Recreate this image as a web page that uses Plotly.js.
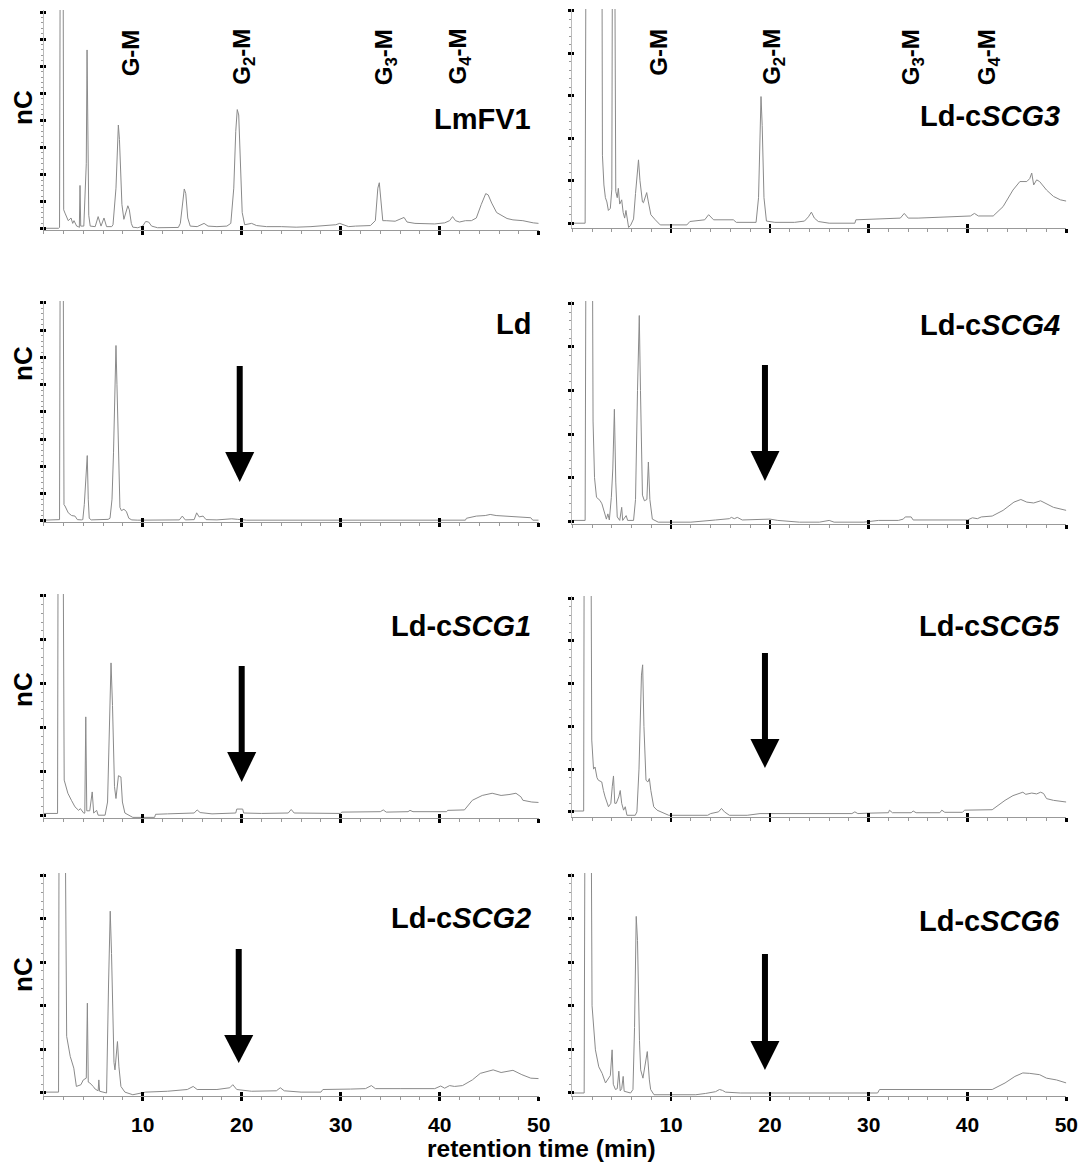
<!DOCTYPE html>
<html><head><meta charset="utf-8">
<script src="https://cdn.plot.ly/plotly-3.0.1.min.js"></script>
<style>html,body{margin:0;padding:0;background:#fff}#chart{width:1081px;height:1164px}</style>
</head><body><div id="chart"></div>
<script>
// ---------- data: [retention time (min), signal (nC, tick units)] ----------
const LmFV1 = [[0,0.02],[1.5,0.02],[1.6,0.05],[1.68,12],[1.95,12],[2.02,0.7],[2.15,0.58],[2.48,0.3],[2.76,0.4],[2.93,0.2],[3.06,0.3],[3.33,0.1],[3.5,0.08],[3.6,0.05],[3.67,1.6],[3.74,0.1],[4.05,0.1],[4.2,1.2],[4.3,2.4],[4.38,6.6],[4.45,2.2],[4.55,0.5],[4.7,0.1],[5.2,0.08],[5.5,0.45],[5.79,0.1],[6.09,0.4],[6.35,0.08],[6.87,0.08],[7.0,0.15],[7.3,1.5],[7.45,3.5],[7.54,3.83],[7.65,3.3],[7.9,0.9],[8.1,0.35],[8.3,0.6],[8.5,0.85],[8.65,0.7],[8.85,0.2],[9.0,0.06],[9.5,0.04],[10.0,0.1],[10.3,0.27],[10.6,0.25],[10.9,0.1],[11.5,0.04],[13.0,0.03],[13.6,0.05],[13.8,0.2],[14.0,0.9],[14.2,1.47],[14.35,1.3],[14.55,0.4],[14.8,0.1],[15.5,0.08],[16.2,0.2],[16.6,0.1],[17.5,0.08],[18.5,0.1],[18.9,0.2],[19.2,1.5],[19.4,3.6],[19.55,4.4],[19.7,4.2],[19.85,2.5],[20.05,0.6],[20.3,0.15],[21.0,0.2],[21.5,0.12],[22.5,0.08],[24,0.08],[25.5,0.06],[27,0.08],[28.5,0.12],[29.5,0.15],[29.9,0.2],[30.3,0.15],[30.8,0.08],[31.5,0.1],[33,0.12],[33.5,0.3],[33.75,1.5],[33.9,1.7],[34.05,1.0],[34.25,0.3],[34.6,0.3],[35.5,0.28],[36.4,0.42],[36.7,0.25],[37.5,0.2],[38.5,0.2],[39.5,0.18],[40.5,0.22],[41.0,0.3],[41.3,0.45],[41.6,0.3],[42.0,0.25],[42.6,0.3],[43.2,0.3],[43.7,0.4],[44.2,0.9],[44.65,1.3],[44.9,1.25],[45.25,0.95],[45.75,0.6],[46.8,0.38],[47.4,0.33],[48.4,0.3],[49.45,0.22],[50,0.2]];
const LdcSCG3 = [[0,0.0],[1.3,0.0],[1.45,12],[2.95,12],[3.05,1.6],[3.2,0.9],[3.35,0.6],[3.5,0.5],[3.65,0.3],[3.85,0.35],[4.0,0.8],[4.12,12],[4.2,12],[4.4,0.75],[4.55,0.6],[4.66,0.82],[4.8,0.45],[5.0,0.55],[5.15,0.25],[5.3,0.12],[5.43,0.3],[5.55,0.1],[5.7,-0.1],[5.9,-0.05],[6.2,0.1],[6.4,0.7],[6.6,1.4],[6.7,1.49],[6.85,1.0],[7.1,0.5],[7.2,0.48],[7.4,0.65],[7.53,0.72],[7.7,0.5],[7.95,0.2],[8.4,0.08],[8.9,-0.04],[11.6,-0.04],[11.9,0.04],[13.4,0.08],[13.8,0.2],[14.3,0.08],[16.3,0.08],[16.6,0.02],[18.6,0.02],[18.85,0.6],[19.0,2.3],[19.1,2.98],[19.22,2.3],[19.4,0.6],[19.65,0.05],[20.5,0.02],[22.5,0.02],[23.5,0.05],[23.9,0.15],[24.2,0.26],[24.5,0.12],[24.9,0.04],[26,0.0],[28.6,0.0],[28.7,0.08],[31.5,0.1],[33.2,0.12],[33.6,0.23],[34.0,0.12],[35,0.12],[37,0.14],[38.5,0.15],[40.3,0.17],[40.7,0.23],[41.1,0.17],[42.6,0.17],[43.6,0.39],[44.6,0.78],[45.3,0.98],[46.0,0.98],[46.3,1.05],[46.5,1.18],[46.7,0.9],[47.0,1.02],[47.3,0.98],[48.0,0.78],[48.7,0.63],[49.4,0.55],[50,0.52]];
const Ld = [[0,0.03],[1.5,0.03],[1.6,0.05],[1.68,12],[1.95,12],[2.05,0.6],[2.15,0.55],[2.48,0.3],[2.82,0.2],[3.16,0.18],[3.4,0.05],[3.8,0.04],[3.95,0.05],[4.1,0.6],[4.2,1.3],[4.3,1.5],[4.4,2.4],[4.5,0.8],[4.6,0.1],[4.8,0.04],[6.0,0.04],[6.5,0.06],[6.7,0.1],[6.9,0.8],[7.05,2.5],[7.15,4.5],[7.3,6.44],[7.4,5.0],[7.55,2.0],[7.7,0.5],[7.85,0.38],[8.1,0.43],[8.35,0.35],[8.6,0.1],[8.9,0.04],[9.5,0.03],[13.7,0.04],[14.0,0.18],[14.3,0.04],[15.2,0.05],[15.45,0.3],[15.7,0.15],[16.1,0.18],[16.4,0.05],[17.5,0.04],[18.5,0.06],[19.0,0.08],[19.6,0.06],[20.5,0.03],[30,0.03],[42.6,0.03],[42.7,0.1],[43.7,0.18],[44.6,0.2],[45.1,0.24],[45.7,0.2],[47.1,0.17],[48.8,0.14],[49.2,0.12],[49.4,0.03],[50,0.03]];
const LdcSCG4 = [[0,0.02],[1.3,0.02],[1.45,12],[1.95,12],[2.1,2.3],[2.25,1.0],[2.45,0.55],[2.8,0.48],[3.0,0.4],[3.15,0.3],[3.3,0.17],[3.45,0.05],[3.6,0.17],[3.75,0.03],[3.95,0.55],[4.1,1.2],[4.26,2.57],[4.4,0.9],[4.55,0.1],[4.8,0.02],[5.0,0.32],[5.1,0.02],[5.45,0.13],[5.6,0.02],[6.2,0.02],[6.4,0.5],[6.6,3.0],[6.78,4.72],[6.9,3.0],[7.1,0.6],[7.3,0.47],[7.55,0.5],[7.7,1.36],[7.85,0.5],[8.1,0.05],[8.7,-0.02],[12,-0.02],[13.5,0.02],[14.5,0.03],[15.9,0.06],[16.1,0.09],[16.4,0.06],[16.7,0.09],[17.2,0.03],[19.5,0.04],[20,0.05],[20.8,0.02],[23,-0.02],[25,-0.02],[26.0,0.02],[26.5,-0.02],[29.5,-0.02],[31,0.02],[33,0.02],[33.5,0.05],[33.7,0.1],[34.3,0.1],[34.5,0.03],[40,0.03],[40.5,0.08],[41.0,0.06],[41.4,0.1],[42.5,0.12],[43.6,0.25],[44.7,0.44],[45.4,0.5],[46.0,0.44],[46.7,0.42],[47.4,0.47],[48.0,0.4],[48.7,0.32],[50,0.25]];
const LdcSCG1 = [[0,0.04],[1.4,0.04],[1.5,12],[1.85,12],[2.07,0.8],[2.44,0.5],[2.8,0.34],[3.16,0.19],[3.53,0.11],[3.7,0.15],[4.07,0.04],[4.15,0.05],[4.25,2.24],[4.35,0.1],[4.65,0.1],[4.9,0.53],[5.05,0.05],[5.35,0.11],[5.5,0.0],[6.2,0.0],[6.45,0.3],[6.6,1.9],[6.8,3.47],[6.95,2.5],[7.15,0.65],[7.3,0.38],[7.55,0.9],[7.8,0.87],[7.95,0.3],[8.2,0.05],[8.6,0.0],[9.0,-0.05],[11.2,-0.05],[11.3,0.02],[12.5,0.03],[14,0.04],[15.2,0.05],[15.5,0.12],[15.8,0.06],[17,0.03],[18.5,0.05],[19.4,0.05],[19.5,0.14],[20.1,0.14],[20.2,0.05],[22,0.04],[24.7,0.05],[25.0,0.13],[25.3,0.05],[28,0.04],[30.0,0.04],[30.1,0.07],[34.0,0.08],[34.3,0.12],[34.6,0.07],[36.8,0.08],[37.0,0.11],[37.3,0.08],[40.7,0.08],[40.8,0.11],[42.5,0.12],[43.3,0.34],[44.3,0.45],[45.3,0.5],[46.2,0.45],[47.0,0.47],[47.7,0.5],[48.2,0.42],[48.4,0.34],[49.3,0.3],[50,0.29]];
const LdcSCG5 = [[0,0.02],[1.15,0.02],[1.25,12],[1.8,12],[1.97,1.68],[2.15,1.0],[2.3,1.05],[2.5,0.8],[2.64,0.74],[2.98,0.7],[3.15,0.5],[3.32,0.35],[3.66,0.12],[3.9,0.2],[4.05,0.6],[4.17,0.84],[4.3,0.2],[4.45,0.2],[4.7,0.35],[4.85,0.5],[5.0,0.2],[5.19,0.04],[5.36,0.12],[5.53,-0.08],[6.37,-0.08],[6.54,0.0],[6.75,1.0],[6.88,1.95],[7.0,3.2],[7.12,3.44],[7.25,2.0],[7.46,0.74],[7.65,0.7],[7.8,0.78],[7.95,0.5],[8.24,0.12],[8.58,0.04],[9.76,-0.08],[13.7,-0.08],[14.0,-0.04],[14.8,0.0],[15.1,0.08],[15.4,0.0],[15.9,-0.08],[17.7,-0.08],[19,-0.04],[28.3,-0.04],[28.6,0.0],[28.9,-0.04],[30,-0.03],[32,-0.02],[32.1,0.04],[32.4,-0.02],[34.3,-0.02],[34.5,0.02],[34.8,-0.02],[37.2,-0.02],[37.4,0.04],[37.7,-0.01],[39.5,-0.01],[39.7,0.04],[42.5,0.05],[43.8,0.27],[44.6,0.38],[45.2,0.43],[45.6,0.46],[45.9,0.41],[46.5,0.44],[47.0,0.42],[47.4,0.46],[47.7,0.43],[48.0,0.31],[48.7,0.27],[50,0.23]];
const LdcSCG2 = [[0,0.02],[1.5,0.02],[1.6,12],[2.0,12],[2.32,1.3],[2.68,0.84],[3.04,0.57],[3.3,0.15],[3.76,0.19],[4.0,0.3],[4.3,0.34],[4.41,2.06],[4.5,0.25],[4.66,0.23],[5.0,0.15],[5.2,0.09],[5.5,0.05],[5.57,0.3],[5.65,0.04],[6.18,0.0],[6.35,0.0],[6.55,2.5],[6.72,4.17],[6.85,3.2],[7.1,0.7],[7.2,0.53],[7.45,1.18],[7.6,0.6],[7.8,0.15],[8.2,0.02],[9.0,-0.04],[10.3,0.02],[12.5,0.04],[14.5,0.08],[15.1,0.15],[15.5,0.08],[17.5,0.08],[18.8,0.12],[19.1,0.19],[19.5,0.08],[21,0.04],[23.5,0.05],[23.9,0.12],[24.3,0.05],[26,0.02],[28,0.02],[28.2,0.08],[31,0.09],[32.5,0.1],[33.1,0.17],[33.5,0.1],[36,0.1],[39.5,0.1],[40.1,0.16],[40.5,0.11],[41.0,0.17],[41.5,0.15],[42.3,0.17],[43.3,0.3],[44.1,0.45],[45.4,0.53],[46.2,0.47],[47.4,0.52],[48.3,0.42],[49.2,0.34],[50,0.33]];
const LdcSCG6 = [[0,0.0],[1.2,0.0],[1.35,12],[1.8,12],[2.0,2.0],[2.34,0.99],[2.68,0.6],[3.02,0.45],[3.36,0.23],[3.6,0.3],[3.85,0.4],[4.03,0.99],[4.15,0.2],[4.37,0.08],[4.55,0.1],[4.71,0.5],[4.85,0.05],[5.0,0.1],[5.15,0.38],[5.25,0.04],[5.9,0.0],[6.14,0.08],[6.3,1.5],[6.47,4.05],[6.6,3.5],[6.8,1.2],[6.92,0.53],[7.15,0.34],[7.35,0.6],[7.59,0.95],[7.8,0.3],[7.93,0.08],[8.27,-0.04],[12.5,-0.04],[13.5,-0.01],[14.5,0.03],[14.9,0.08],[15.2,0.06],[15.5,0.02],[17,0.0],[30.9,0.0],[31.1,0.08],[42.5,0.08],[43.8,0.23],[44.8,0.38],[45.6,0.46],[46.3,0.45],[47.3,0.42],[48.0,0.34],[49.0,0.3],[50,0.23]];

const panelSeries = [LmFV1, LdcSCG3, Ld, LdcSCG4, LdcSCG1, LdcSCG5, LdcSCG2, LdcSCG6];
const panelNames = ['LmFV1','Ld-c<i>SCG3</i>','Ld','Ld-c<i>SCG4</i>','Ld-c<i>SCG1</i>','Ld-c<i>SCG5</i>','Ld-c<i>SCG2</i>','Ld-c<i>SCG6</i>'];
const xTickVals = [10, 20, 30, 40, 50];
const peakLabels = ['G-M','G<sub>2</sub>-M','G<sub>3</sub>-M','G<sub>4</sub>-M'];
const peakLabelXLeft = [8.8, 20.1, 34.5, 41.9];
const peakLabelXRight = [8.7, 20.3, 34.4, 42.1];
const arrowX = [null, null, 19.8, 19.5, 20.0, 19.5, 19.7, 19.5];
const xTitle = 'retention time (min)';
const yTitle = 'nC';

// ---------- layout geometry (pixels) ----------
const W = 1081, H = 1164;
const FONT = 'Liberation Sans, Arial, Helvetica, sans-serif';
const colX = [[43.7, 538.7], [572.3, 1066.3]];
const labelRight = [533, 1062];
const frame = [
  {col:0, top:10,  axis:230,   yr:[-0.044, 8.074], labelY:119},
  {col:1, top:9,   axis:228.3, yr:[-0.12, 5.04],   labelY:116},
  {col:0, top:301, axis:522,   yr:[-0.037, 8.073], labelY:324},
  {col:1, top:301, axis:524.3, yr:[-0.069, 5.053], labelY:325},
  {col:0, top:594, axis:818,   yr:[-0.064, 5.04],  labelY:626},
  {col:1, top:596, axis:817,   yr:[-0.12, 5.05],   labelY:626},
  {col:0, top:873, axis:1096,  yr:[-0.069, 5.046], labelY:918},
  {col:1, top:873, axis:1096,  yr:[-0.069, 5.046], labelY:921}
];
const arrowGeom = [null, null,
  {top:366, head:452, tip:482}, {top:365, head:451, tip:481},
  {top:666, head:752, tip:782}, {top:653, head:739, tip:768},
  {top:949, head:1035, tip:1063}, {top:954, head:1041, tip:1070}];
const nCRowY = [108, 364, 690, 975];

const py = p => 1 - p / H;
const pxf = p => p / W;

const data = [];
const layout = {
  width: W, height: H, margin: {l:0, r:0, t:0, b:0},
  showlegend: false, paper_bgcolor: '#ffffff', plot_bgcolor: 'rgba(0,0,0,0)',
  annotations: [], shapes: []
};

panelSeries.forEach((s, i) => {
  const f = frame[i];
  const n = i + 1, m = i + 9;
  const xd = [pxf(colX[f.col][0]), pxf(colX[f.col][1])];
  const yd = [py(f.axis), py(f.top)];
  const bottom = i >= 6;
  data.push({x: s.map(p => p[0]), y: s.map(p => p[1]), xaxis: 'x' + n, yaxis: 'y' + n,
    type: 'scatter', mode: 'lines', line: {color: '#8a8a8a', width: 1}, hoverinfo: 'skip'});
  data.push({x: [], y: [], xaxis: 'x' + m, yaxis: 'y' + m, type: 'scatter', mode: 'lines', hoverinfo: 'skip'});
  layout['xaxis' + n] = {domain: xd, range: [0, 50], anchor: 'y' + n,
    tickmode: 'array', tickvals: xTickVals, ticktext: xTickVals.map(String),
    ticks: 'outside', ticklen: 4, tickwidth: 2.5, tickcolor: '#000',
    showline: true, linecolor: '#999', linewidth: 1, showgrid: false, zeroline: false,
    showticklabels: bottom, ticklabelstandoff: 6,
    tickfont: {family: FONT, size: 21, color: '#000', weight: 'bold'},
    minor: {tick0: 0, dtick: 2, ticks: 'outside', ticklen: 3, tickwidth: 1, tickcolor: '#999', showgrid: false}};
  layout['yaxis' + n] = {domain: yd, range: f.yr, anchor: 'x' + n,
    tickmode: 'linear', tick0: 0, dtick: 1, ticks: 'outside', ticklen: 3, tickwidth: 3, tickcolor: '#000',
    showline: true, linecolor: '#bbb', linewidth: 1, showgrid: false, zeroline: false, showticklabels: false,
    minor: {tick0: 0, dtick: 0.2, ticks: 'outside', ticklen: 2, tickwidth: 1, tickcolor: '#999', showgrid: false}};
  layout['xaxis' + m] = {overlaying: 'x' + n, anchor: 'y' + m, domain: xd, range: [0, 50],
    tickmode: 'array', tickvals: xTickVals, ticks: 'inside', ticklen: 4, tickwidth: 2.5, tickcolor: '#000',
    showline: false, showgrid: false, zeroline: false, showticklabels: false};
  layout['yaxis' + m] = {overlaying: 'y' + n, anchor: 'x' + m, domain: yd, range: f.yr,
    tickmode: 'linear', tick0: 0, dtick: 1, ticks: 'inside', ticklen: 2, tickwidth: 3, tickcolor: '#000',
    showline: false, showgrid: false, zeroline: false, showticklabels: false};

  // panel name
  layout.annotations.push({xref: 'paper', yref: 'paper', x: pxf(labelRight[f.col]), y: py(f.labelY),
    xanchor: 'right', yanchor: 'middle', showarrow: false, text: '<b>' + panelNames[i] + '</b>',
    font: {family: FONT, size: 29, color: '#000'}});

  // peak labels on top row
  if (i < 2) {
    const lx = i === 0 ? peakLabelXLeft : peakLabelXRight;
    peakLabels.forEach((t, k) => {
      layout.annotations.push({xref: 'x' + n, yref: 'paper', x: lx[k], y: py(27),
        xanchor: 'center', yanchor: 'top', textangle: -90, showarrow: false,
        text: '<b>' + t + '</b>', font: {family: FONT, size: 24, color: '#000'}});
    });
  }

  // arrows
  if (arrowX[i] !== null) {
    const a = arrowGeom[i], ax = arrowX[i], hw = 14.5 / 9.88;
    layout.shapes.push({type: 'line', xref: 'x' + n, yref: 'paper', x0: ax, x1: ax,
      y0: py(a.top), y1: py(a.head + 2), line: {color: '#000', width: 6}});
    layout.shapes.push({type: 'path', xref: 'x' + n, yref: 'paper',
      path: 'M' + (ax - hw) + ',' + py(a.head) + ' L' + (ax + hw) + ',' + py(a.head) + ' L' + ax + ',' + py(a.tip) + ' Z',
      fillcolor: '#000', line: {width: 0}});
  }
});

nCRowY.forEach(yv => {
  layout.annotations.push({xref: 'paper', yref: 'paper', x: pxf(23), y: py(yv),
    xanchor: 'center', yanchor: 'middle', textangle: -90, showarrow: false,
    text: '<b>' + yTitle + '</b>', font: {family: FONT, size: 26, color: '#000'}});
});
layout.annotations.push({xref: 'paper', yref: 'paper', x: pxf(541), y: py(1148),
  xanchor: 'center', yanchor: 'middle', showarrow: false,
  text: '<b>' + xTitle + '</b>', font: {family: FONT, size: 24.5, color: '#000'}});

Plotly.newPlot('chart', data, layout, {staticPlot: true, displayModeBar: false});
</script></body></html>
